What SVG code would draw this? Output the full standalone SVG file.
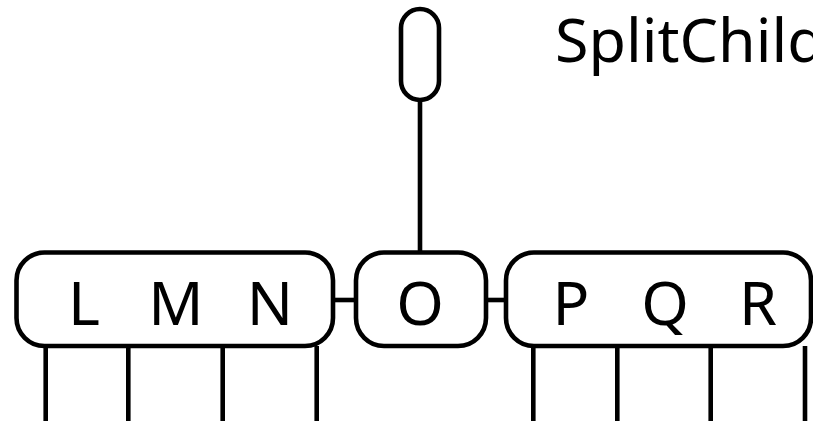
<svg xmlns="http://www.w3.org/2000/svg" width="813" height="421" viewBox="0 0 813 421">
<style>
.box{fill:#fff;stroke:#000;stroke-width:4.6}
.ln{stroke:#000;stroke-width:4.6;fill:none}
.lb{font-family:"Noto Sans","Open Sans",sans-serif;font-size:61px;fill:#000;text-anchor:middle}
.title{font-family:"Noto Sans","Open Sans",sans-serif;font-size:61px;fill:#000}
</style>
<rect width="813" height="421" fill="#fff"/>
<g id="connectors">
<line class="ln" x1="420" y1="100" x2="420" y2="253"/>
<line class="ln" x1="333" y1="300" x2="356" y2="300"/>
<line class="ln" x1="486" y1="300" x2="506" y2="300"/>
<line class="ln" x1="45.7" y1="346" x2="45.7" y2="421"/>
<line class="ln" x1="128.3" y1="346" x2="128.3" y2="421"/>
<line class="ln" x1="222.7" y1="346" x2="222.7" y2="421"/>
<line class="ln" x1="316.7" y1="346" x2="316.7" y2="421"/>
<line class="ln" x1="533.3" y1="346" x2="533.3" y2="421"/>
<line class="ln" x1="617.3" y1="346" x2="617.3" y2="421"/>
<line class="ln" x1="710.7" y1="346" x2="710.7" y2="421"/>
<line class="ln" x1="805" y1="346" x2="805" y2="421"/>
</g>
<g id="root">
<rect class="box" x="401" y="9" width="38" height="91" rx="19"/>
</g>
<g id="node-LMN">
<rect class="box" x="16.5" y="252.5" width="316.5" height="93.5" rx="28"/>
<text class="lb" x="84" y="325">L</text>
<text class="lb" x="176" y="325">M</text>
<text class="lb" x="270" y="325">N</text>
</g>
<g id="node-O">
<rect class="box" x="356" y="252.5" width="130" height="93.5" rx="28"/>
<text class="lb" x="420" y="325">O</text>
</g>
<g id="node-PQR">
<rect class="box" x="506" y="252.5" width="305" height="93.5" rx="28"/>
<text class="lb" x="571" y="325">P</text>
<text class="lb" x="665" y="325">Q</text>
<text class="lb" x="758" y="325">R</text>
</g>
<text class="title" x="555" y="62">SplitChild</text>
</svg>
